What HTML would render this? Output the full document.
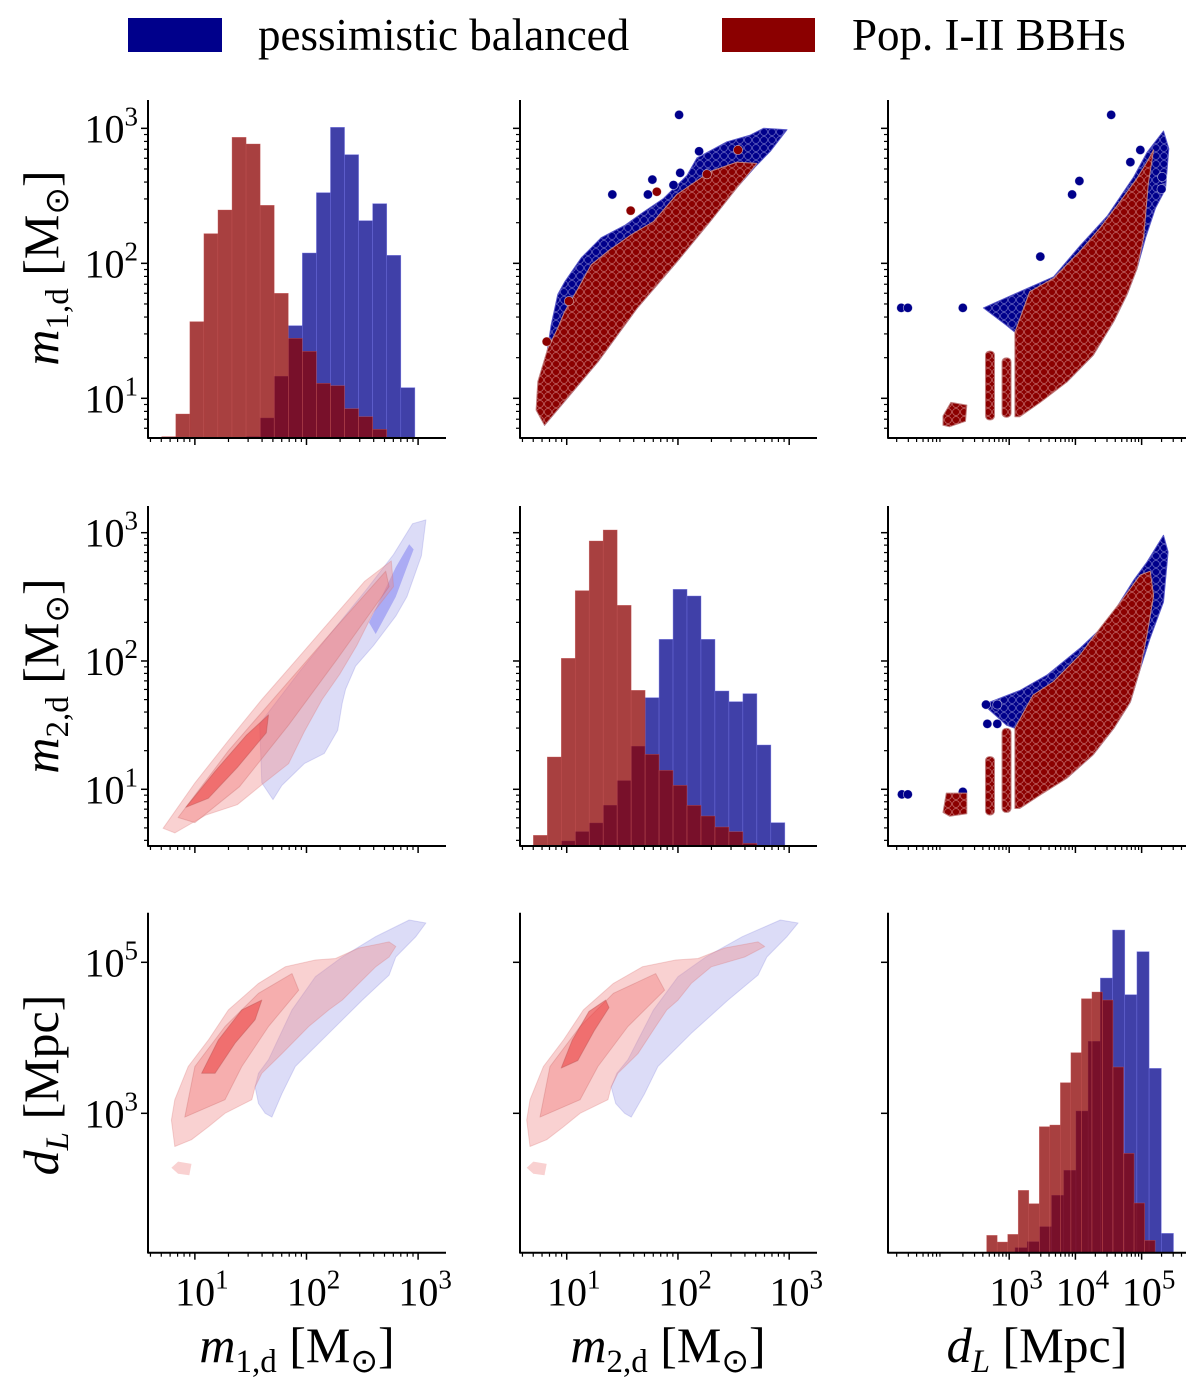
<!DOCTYPE html>
<html><head><meta charset="utf-8"><style>
html,body{margin:0;padding:0;background:#fff;}
svg{display:block;font-family:"Liberation Serif",serif;}
</style></head><body>
<svg id="fig" width="1200" height="1385" viewBox="0 0 1200 1385" xmlns="http://www.w3.org/2000/svg">
<defs>
<pattern id="redDots" width="8" height="8" patternUnits="userSpaceOnUse"><rect width="8" height="8" fill="#8b0000"/><circle cx="4" cy="4" r="3.5" fill="none" stroke="rgba(255,220,220,0.45)" stroke-width="0.8"/></pattern>
<pattern id="blueDots" width="8" height="8" patternUnits="userSpaceOnUse"><rect width="8" height="8" fill="#00008b"/><circle cx="4" cy="4" r="3.5" fill="none" stroke="rgba(220,220,255,0.45)" stroke-width="0.8"/></pattern>
</defs>
<g>
<rect x="128" y="18" width="94" height="34" fill="#00008b"/>
<text x="258" y="50" font-size="45">pessimistic balanced</text>
<rect x="722" y="18" width="93" height="34" fill="#8b0000"/>
<text x="852" y="50" font-size="45">Pop. I-II BBHs</text>
</g>
<g id="marks"></g>
<g id="axes"></g>
<g>
<text transform="translate(58,268) rotate(-90)" text-anchor="middle" font-size="50"><tspan font-style="italic">m</tspan><tspan font-size="33" dy="10">1,d</tspan><tspan dy="-10"> [M</tspan><tspan font-size="33" dy="10">⊙</tspan><tspan dy="-10">]</tspan></text>
<text transform="translate(58,676) rotate(-90)" text-anchor="middle" font-size="50"><tspan font-style="italic">m</tspan><tspan font-size="33" dy="10">2,d</tspan><tspan dy="-10"> [M</tspan><tspan font-size="33" dy="10">⊙</tspan><tspan dy="-10">]</tspan></text>
<text transform="translate(58,1085) rotate(-90)" text-anchor="middle" font-size="50"><tspan font-style="italic">d</tspan><tspan font-size="33" dy="10" font-style="italic">L</tspan><tspan dy="-10"> [Mpc]</tspan></text>
<text x="297" y="1362" text-anchor="middle" font-size="50"><tspan font-style="italic">m</tspan><tspan font-size="33" dy="10">1,d</tspan><tspan dy="-10"> [M</tspan><tspan font-size="33" dy="10">⊙</tspan><tspan dy="-10">]</tspan></text>
<text x="668" y="1362" text-anchor="middle" font-size="50"><tspan font-style="italic">m</tspan><tspan font-size="33" dy="10">2,d</tspan><tspan dy="-10"> [M</tspan><tspan font-size="33" dy="10">⊙</tspan><tspan dy="-10">]</tspan></text>
<text x="1037" y="1362" text-anchor="middle" font-size="50"><tspan font-style="italic">d</tspan><tspan font-size="33" dy="10" font-style="italic">L</tspan><tspan dy="-10"> [Mpc]</tspan></text>
</g>
</svg>
<script>
// ---------- data (log10 values) ----------
const h1Start = 0.703, h1Width = 0.126;
const h1Red = [4,72,349,613,684,902,882,698,434,299,260,164,157,88,64,26,2];
const h1BlueOffset = 6;
const h1Blue = [4,60,185,337,555,736,932,850,652,703,548,151,2];
const h2Start = 0.70, h2Width = 0.1256;
const h2Red = [32,267,563,766,915,948,722,467,275,227,182,122,90,57,43,8,2];
const h2BlueOffset = 2;
const h2Blue = [15,43,69,122,196,299,445,620,770,750,620,465,433,457,303,70];
const h3RedStart = 2.66, h3RedWidth = 0.159;
const h3Red = [52,32,55,187,147,378,383,510,600,762,782,758,557,298,149,37];
const h3BlueStart = 2.905, h3BlueWidth = 0.184;
const h3Blue = [2,15,33,78,172,247,425,634,824,968,774,903,553,58];

const s12Red = [[0.725,0.913],[0.74,1.123],[0.83,1.37],[0.92,1.52],[0.98,1.64],[1.10,1.81],[1.22,1.99],[1.37,2.09],[1.575,2.21],[1.78,2.31],[1.99,2.51],[2.29,2.68],[2.53,2.75],[2.71,2.74],[2.53,2.56],[2.29,2.31],[1.99,2.01],[1.635,1.67],[1.28,1.27],[0.80,0.80]];
const s12Blue = [[0.86,1.54],[0.92,1.77],[0.98,1.86],[1.13,2.04],[1.31,2.19],[1.52,2.28],[1.69,2.38],[1.87,2.48],[2.08,2.65],[2.17,2.78],[2.44,2.90],[2.65,2.95],[2.77,3.0],[2.98,2.99],[2.83,2.83],[2.70,2.72],[2.53,2.56],[2.29,2.31],[1.99,2.01],[1.635,1.67],[1.28,1.27],[0.80,0.80],[0.76,1.0]];
const s12BlueOut = [[2.01,3.10],[1.41,2.51],[1.77,2.62],[1.73,2.51],[2.02,2.67],[2.19,2.83],[1.96,2.58]];
const s12RedOut = [[1.575,2.39],[1.81,2.53],[2.54,2.84],[2.26,2.66],[0.82,1.42],[1.02,1.72]];

const s13Red = [[3.086,0.864],[3.086,1.49],[3.31,1.79],[3.67,1.89],[4.07,2.09],[4.37,2.26],[4.68,2.46],[4.93,2.63],[5.08,2.75],[5.18,2.84],[5.10,2.59],[5.03,2.19],[4.93,1.96],[4.78,1.77],[4.58,1.57],[4.27,1.32],[3.87,1.12],[3.47,0.97],[3.16,0.864]];
const s13Blue = [[2.61,1.67],[3.16,1.79],[3.67,1.90],[4.07,2.13],[4.48,2.35],[4.88,2.64],[5.08,2.82],[5.33,2.98],[5.41,2.85],[5.36,2.55],[5.21,2.41],[5.06,2.19],[4.93,1.96],[4.78,1.77],[4.58,1.57],[4.27,1.32],[3.87,1.12],[3.086,1.49],[2.96,1.54]];
const s13BlueOut = [[1.37,1.67],[1.47,1.67],[2.30,1.67],[3.47,2.05],[3.95,2.51],[4.06,2.61],[4.54,3.10],[4.83,2.75],[4.98,2.84],[5.31,2.64],[5.30,2.55]];
const s13RedStrips = [[2.96,0.86,1.30],[2.71,0.84,1.35]];
const s13RedCluster = [[2.0,0.87],[2.12,0.97],[2.36,0.95],[2.34,0.83],[2.1,0.79],[2.0,0.80]];

const s23Red = [[3.086,0.85],[3.086,1.475],[3.36,1.735],[3.67,1.84],[4.07,2.047],[4.37,2.255],[4.68,2.46],[4.98,2.67],[5.13,2.70],[5.18,2.51],[5.08,2.20],[4.98,1.94],[4.83,1.68],[4.58,1.475],[4.27,1.27],[3.87,1.086],[3.47,0.956],[3.16,0.85]];
const s23Blue = [[2.61,1.66],[3.16,1.77],[3.57,1.89],[4.07,2.10],[4.48,2.30],[4.88,2.63],[5.08,2.77],[5.33,2.98],[5.40,2.85],[5.33,2.46],[5.13,2.18],[4.98,1.94],[4.83,1.68],[4.58,1.475],[4.27,1.27],[3.87,1.086],[3.086,1.475],[2.96,1.50]];
const s23BlueOut = [[1.38,0.96],[1.47,0.96],[2.30,0.98],[2.65,1.66],[2.82,1.66],[2.67,1.51],[2.82,1.51]];
const s23RedStrips = [[2.96,0.82,1.475],[2.71,0.80,1.255]];
const s23RedCluster = [[2.0,0.82],[2.05,0.97],[2.36,0.97],[2.36,0.81],[2.1,0.79]];

const k12RedOuter = [[0.715,0.696],[1.0,1.05],[1.30,1.38],[1.60,1.70],[1.92,2.02],[2.22,2.32],[2.52,2.62],[2.76,2.78],[2.78,2.58],[2.60,2.38],[2.45,2.12],[2.30,1.90],[2.14,1.70],[1.98,1.45],[1.84,1.20],[1.62,1.05],[1.38,0.88],[1.10,0.80],[0.82,0.66]];
const k12RedMid = [[0.85,0.78],[1.30,1.30],[1.78,1.78],[2.24,2.24],[2.71,2.70],[2.74,2.58],[2.28,2.02],[1.84,1.50],[1.40,1.02],[1.00,0.74]];
const k12RedCore = [[0.92,0.86],[1.18,1.14],[1.46,1.42],[1.66,1.58],[1.64,1.44],[1.38,1.17],[1.12,0.93]];
const k12BlueOuter = [[1.60,1.05],[1.58,1.51],[1.94,1.92],[2.24,2.24],[2.54,2.56],[2.78,2.83],[2.95,3.07],[3.07,3.10],[3.03,2.82],[2.90,2.50],[2.80,2.35],[2.60,2.12],[2.44,1.96],[2.35,1.78],[2.32,1.67],[2.28,1.46],[2.16,1.28],[1.98,1.20],[1.78,1.03],[1.70,0.92]];
const k12BlueCore = [[2.56,2.30],[2.80,2.73],[2.92,2.91],[2.96,2.87],[2.80,2.50],[2.62,2.21]];

const k13RedOuter = [[0.79,2.91],[0.82,3.18],[0.94,3.62],[1.12,3.97],[1.30,4.37],[1.57,4.72],[1.81,4.94],[2.08,5.03],[2.26,5.05],[2.47,5.19],[2.74,5.27],[2.80,5.21],[2.74,5.07],[2.62,4.94],[2.47,4.72],[2.32,4.50],[2.20,4.37],[2.02,4.15],[1.78,3.79],[1.60,3.53],[1.54,3.35],[1.51,3.18],[1.27,3.00],[1.12,2.82],[0.97,2.65],[0.82,2.56]];
const k13RedBlob = [[0.79,2.28],[0.85,2.36],[0.97,2.33],[0.95,2.18],[0.85,2.20]];
const k13RedMid = [[0.91,2.95],[1.0,3.62],[1.27,4.15],[1.57,4.59],[1.87,4.85],[1.93,4.63],[1.66,4.15],[1.42,3.62],[1.27,3.18]];
const k13RedCore = [[1.06,3.53],[1.21,3.97],[1.42,4.37],[1.60,4.50],[1.54,4.24],[1.36,3.93],[1.18,3.53]];
const k13BlueOuter = [[1.54,3.35],[1.57,3.53],[1.66,3.71],[1.87,4.37],[2.08,4.81],[2.32,5.07],[2.62,5.34],[2.92,5.56],[3.07,5.52],[2.98,5.34],[2.80,5.07],[2.74,4.83],[2.50,4.50],[2.20,4.06],[1.90,3.62],[1.78,3.26],[1.69,2.95],[1.63,3.00],[1.57,3.13]];

const k23RedOuter = [[0.64,2.91],[0.67,3.18],[0.79,3.62],[0.97,3.97],[1.15,4.37],[1.42,4.72],[1.68,4.94],[1.98,5.03],[2.18,5.05],[2.42,5.19],[2.72,5.27],[2.78,5.21],[2.60,5.07],[2.30,4.94],[2.12,4.72],[2.00,4.50],[1.90,4.37],[1.80,4.15],[1.64,3.79],[1.46,3.53],[1.40,3.35],[1.37,3.18],[1.12,3.00],[0.97,2.82],[0.82,2.65],[0.67,2.56]];
const k23RedBlob = [[0.64,2.28],[0.70,2.36],[0.82,2.33],[0.80,2.18],[0.70,2.20]];
const k23RedMid = [[0.76,2.95],[0.85,3.62],[1.12,4.15],[1.42,4.59],[1.80,4.85],[1.88,4.63],[1.55,4.15],[1.28,3.62],[1.12,3.18]];
const k23RedCore = [[0.95,3.6],[1.05,3.97],[1.2,4.35],[1.35,4.5],[1.38,4.4],[1.25,4.1],[1.1,3.7]];
const k23BlueOuter = [[1.40,3.35],[1.45,3.53],[1.55,3.71],[1.78,4.37],[2.00,4.81],[2.25,5.07],[2.58,5.34],[2.92,5.56],[3.08,5.52],[2.98,5.34],[2.80,5.07],[2.72,4.83],[2.45,4.50],[2.12,4.06],[1.82,3.62],[1.70,3.26],[1.58,2.95],[1.52,3.00],[1.44,3.13]];

// ---------- scales ----------
const NS = "http://www.w3.org/2000/svg";
const cols = [{p0:148,p1:446,d0:0.58,d1:3.25},{p0:520,p1:817,d0:0.58,d1:3.25},{p0:888,p1:1186,d0:1.17,d1:5.67}];
const rows = [{p0:438,p1:100,d0:0.706,d1:3.21},{p0:846,p1:506,d0:0.558,d1:3.208},{p0:1252.7,p1:912.7,d0:1.154,d1:5.657}];
function sx(c,v){const s=cols[c];return s.p0+(v-s.d0)/(s.d1-s.d0)*(s.p1-s.p0);}
function sy(r,v){const s=rows[r];return s.p0+(v-s.d0)/(s.d1-s.d0)*(s.p1-s.p0);}
const marks=document.getElementById('marks');
const axes=document.getElementById('axes');
function mk(tag,attrs,parent){const e=document.createElementNS(NS,tag);for(const k in attrs)e.setAttribute(k,attrs[k]);(parent||marks).appendChild(e);return e;}
function poly(r,c,pts,fill,stroke,name){
  const e=mk('polygon',{points:pts.map(p=>sx(c,p[0]).toFixed(1)+','+sy(r,p[1]).toFixed(1)).join(' '),fill:fill,stroke:stroke||'none','stroke-width':1,'stroke-linejoin':'round'});
  
  
  return e;
}
function dots(r,c,pts,fill,name){
  pts.forEach(p=>{const e=mk('circle',{cx:sx(c,p[0]),cy:sy(r,p[1]),r:4.6,fill:fill,stroke:'rgba(255,255,255,0.6)','stroke-width':0.7});
  
  });
}
function hist(r,c,start,width,offset,counts,fill,stroke,name){
  const base=rows[r].p0;
  counts.forEach((v,i)=>{const a=start+(i+offset)*width;const x0=sx(c,a),x1=sx(c,a+width);
    const e=mk('rect',{x:x0,y:base-v/3,width:x1-x0,height:v/3,fill:fill,stroke:stroke,'stroke-width':0.6});
    
    });
}
const BF='rgba(0,0,139,0.75)',RF='rgba(139,0,0,0.75)';
hist(0,0,h1Start,h1Width,h1BlueOffset,h1Blue,BF,'rgba(120,120,230,0.7)','hist-m1-pessimistic-bar');
hist(0,0,h1Start,h1Width,0,h1Red,RF,'rgba(200,90,90,0.6)','hist-m1-pop12-bar');
hist(1,1,h2Start,h2Width,h2BlueOffset,h2Blue,BF,'rgba(120,120,230,0.7)','hist-m2-pessimistic-bar');
hist(1,1,h2Start,h2Width,0,h2Red,RF,'rgba(200,90,90,0.6)','hist-m2-pop12-bar');
hist(2,2,h3BlueStart,h3BlueWidth,0,h3Blue,BF,'rgba(120,120,230,0.7)','hist-dl-pessimistic-bar');
hist(2,2,h3RedStart,h3RedWidth,0,h3Red,RF,'rgba(200,90,90,0.6)','hist-dl-pop12-bar');

poly(0,1,s12Blue,'url(#blueDots)','#5858c8','scatter-m2-m1-pessimistic-cloud');
dots(0,1,s12BlueOut,'#00008b','scatter-m2-m1-pessimistic-point');
poly(0,1,s12Red,'url(#redDots)','#c08080','scatter-m2-m1-pop12-cloud');
dots(0,1,s12RedOut,'#8b0000','scatter-m2-m1-pop12-point');

poly(0,2,s13Blue,'url(#blueDots)','#5858c8','scatter-dl-m1-pessimistic-cloud');
dots(0,2,s13BlueOut,'#00008b','scatter-dl-m1-pessimistic-point');
poly(0,2,s13Red,'url(#redDots)','#c08080','scatter-dl-m1-pop12-cloud');
s13RedStrips.forEach(s=>{const e=mk('rect',{x:sx(2,s[0])-4.5,y:sy(0,s[2]),width:9,height:sy(0,s[1])-sy(0,s[2]),rx:4,fill:'url(#redDots)',stroke:'#c08080'});

});
poly(0,2,s13RedCluster,'url(#redDots)','#c08080','scatter-dl-m1-pop12-cluster');

poly(1,2,s23Blue,'url(#blueDots)','#5858c8','scatter-dl-m2-pessimistic-cloud');
dots(1,2,s23BlueOut,'#00008b','scatter-dl-m2-pessimistic-point');
poly(1,2,s23Red,'url(#redDots)','#c08080','scatter-dl-m2-pop12-cloud');
s23RedStrips.forEach(s=>{const e=mk('rect',{x:sx(2,s[0])-4.5,y:sy(1,s[2]),width:9,height:sy(1,s[1])-sy(1,s[2]),rx:4,fill:'url(#redDots)',stroke:'#c08080'});

});
poly(1,2,s23RedCluster,'url(#redDots)','#c08080','scatter-dl-m2-pop12-cluster');

function kde(r,c,blueOuter,blueCore,redOuter,redMid,redCore,blob,prefix){
  poly(r,c,blueOuter,'rgba(150,150,230,0.33)','rgba(120,120,220,0.25)',prefix+'-pessimistic-outer');
  if(blueCore)poly(r,c,blueCore,'rgba(110,110,240,0.45)','none',prefix+'-pessimistic-core');
  poly(r,c,redOuter,'rgba(240,140,140,0.40)','rgba(220,120,120,0.3)',prefix+'-pop12-outer');
  if(blob)poly(r,c,blob,'rgba(240,140,140,0.40)','none',prefix+'-pop12-blob');
  poly(r,c,redMid,'rgba(240,110,110,0.35)','rgba(200,100,100,0.3)',prefix+'-pop12-mid');
  poly(r,c,redCore,'rgba(235,60,60,0.55)','rgba(180,80,80,0.4)',prefix+'-pop12-core');
}
kde(1,0,k12BlueOuter,k12BlueCore,k12RedOuter,k12RedMid,k12RedCore,null,'kde-m1-m2');
kde(2,0,k13BlueOuter,null,k13RedOuter,k13RedMid,k13RedCore,k13RedBlob,'kde-m1-dl');
kde(2,1,k23BlueOuter,null,k23RedOuter,k23RedMid,k23RedCore,k23RedBlob,'kde-m2-dl');

// ---------- axes ----------
const massTicks=[1,2,3];
const dlXTicks=[3,4,5];
const dlYTicks=[3,5];
function line(x1,y1,x2,y2,w,name){const e=mk('line',{x1:x1,y1:y1,x2:x2,y2:y2,stroke:'#000','stroke-width':w},axes);

}
function label(x,y,exp,anchor,name){
  const t=mk('text',{x:x,y:y,'text-anchor':anchor,'font-size':40},axes);
  t.innerHTML='<tspan>10</tspan><tspan font-size="27" dy="-17">'+exp+'</tspan>';
  
  
}
for(let r=0;r<3;r++)for(let c=0;c<3;c++){
  const cs=cols[c],rs=rows[r];
  line(cs.p0,rs.p1,cs.p0,rs.p0+0.5,2,'y-axis-spine');
  line(cs.p0-0.5,rs.p0,cs.p1,rs.p0,2,'x-axis-spine');
  const yt = r===2?dlYTicks:massTicks;
  for(let d=Math.floor(rs.d0);d<=Math.ceil(rs.d1);d++){
    if(r<2){for(let m=2;m<10;m++){const v=d+Math.log10(m);if(v>rs.d0&&v<rs.d1){const y=sy(r,v);line(cs.p0-4,y,cs.p0,y,1.2,'y-minor-tick');}}}
  }
  yt.forEach(v=>{const y=sy(r,v);line(cs.p0-7,y,cs.p0,y,1.5,'y-major-tick');
    if(c===0)label(cs.p0-10,y+14,v,'end','y-tick-label');});
  const xt = c===2?dlXTicks:massTicks;
  for(let d=Math.floor(cs.d0);d<=Math.ceil(cs.d1);d++){
    for(let m=2;m<10;m++){const v=d+Math.log10(m);if(v>cs.d0&&v<cs.d1){const x=sx(c,v);line(x,rs.p0,x,rs.p0+4,1.2,'x-minor-tick');}}
  }
  xt.forEach(v=>{const x=sx(c,v);line(x,rs.p0,x,rs.p0+7,1.5,'x-major-tick');
    if(r===2)label(x+7,rs.p0+53,v,'middle','x-tick-label');});
}
</script>
</body></html>
